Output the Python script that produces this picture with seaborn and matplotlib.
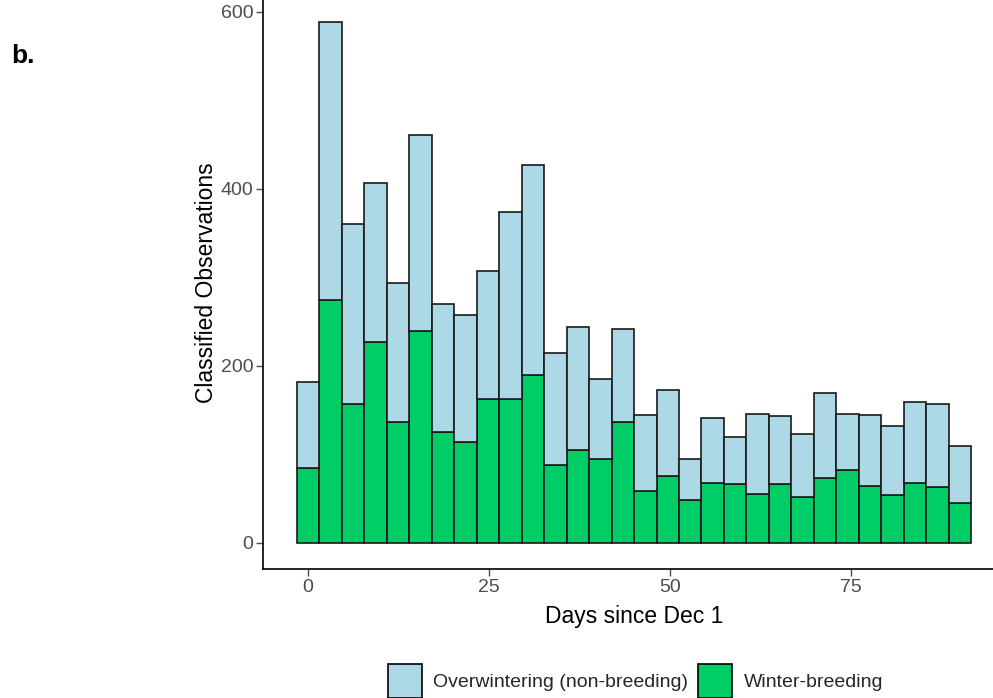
import numpy as np
import pandas as pd
import matplotlib
matplotlib.use("Agg")
import matplotlib.pyplot as plt
from matplotlib.patches import Patch
import seaborn as sns

# ---- data ----
n_bins = 30
day_max = 90
overwintering_label = "Overwintering (non-breeding)"
breeding_label = "Winter-breeding"
totals = [182, 589, 360, 407, 294, 461, 270, 257, 307, 374, 427, 214, 244, 185, 242,
          144, 173, 95, 141, 120, 146, 143, 123, 169, 146, 144, 132, 159, 157, 109]
breeding = [84, 274, 157, 227, 136, 239, 125, 114, 162, 162, 190, 88, 105, 95, 136,
            59, 75, 48, 68, 66, 55, 66, 52, 73, 82, 64, 54, 68, 63, 45]
overwintering = [t - b for t, b in zip(totals, breeding)]
x_ticks = [0, 25, 50, 75]
y_ticks = [0, 200, 400, 600]

bw = day_max / (n_bins - 1)
days = np.arange(n_bins) * bw

df = pd.DataFrame({
    "day": np.concatenate([days, days]),
    "count": np.concatenate([overwintering, breeding]).astype(float),
    "group": [overwintering_label] * n_bins + [breeding_label] * n_bins,
})

sns.set_theme(style="ticks")
plt.rcParams["font.family"] = ["Liberation Sans", "DejaVu Sans"]

col_ow = "#ADD8E6"
col_br = "#00CD66"

fig = plt.figure(figsize=(9.93, 6.98), dpi=100)
ax = fig.add_axes([0.265, 0.185, 0.747, 0.8213])

sns.histplot(data=df, x="day", weights="count", hue="group",
             hue_order=[overwintering_label, breeding_label],
             palette={overwintering_label: col_ow, breeding_label: col_br},
             multiple="stack", binwidth=bw, binrange=(-bw / 2, day_max + bw / 2),
             alpha=1.0, edgecolor="#1a1a1a", linewidth=1.2, legend=False, ax=ax)

ax.set_xlim(-6.2, 96.2)
ax.set_ylim(-29.5, 618.5)
ax.set_xticks(x_ticks)
ax.set_yticks(y_ticks)
ax.tick_params(axis="both", labelsize=14, colors="#4D4D4D", length=5, width=1.0, pad=2)
ax.tick_params(axis="both", labelcolor="#4D4D4D")
for s in ["top", "right"]:
    ax.spines[s].set_visible(False)
for s in ["left", "bottom"]:
    ax.spines[s].set_color("black")
    ax.spines[s].set_linewidth(1.2)
ax.set_xlabel("Days since Dec 1", fontsize=16.5, color="black", labelpad=7)
ax.set_ylabel("Classified Observations", fontsize=16.5, color="black", labelpad=2)

handles = [Patch(facecolor=col_ow, edgecolor="black", linewidth=1.2, label=overwintering_label),
           Patch(facecolor=col_br, edgecolor="black", linewidth=1.2, label=breeding_label)]
fig.legend(handles=handles, loc="center", bbox_to_anchor=(0.640, 0.0244), ncol=2,
           frameon=False, fontsize=14, handlelength=1.75, handleheight=2.31,
           handletextpad=0.6, columnspacing=0.5, borderpad=0.0)

fig.text(0.011, 0.910, "b.", fontsize=19, fontweight="bold", color="black")

fig.savefig("out.png", dpi=100)
